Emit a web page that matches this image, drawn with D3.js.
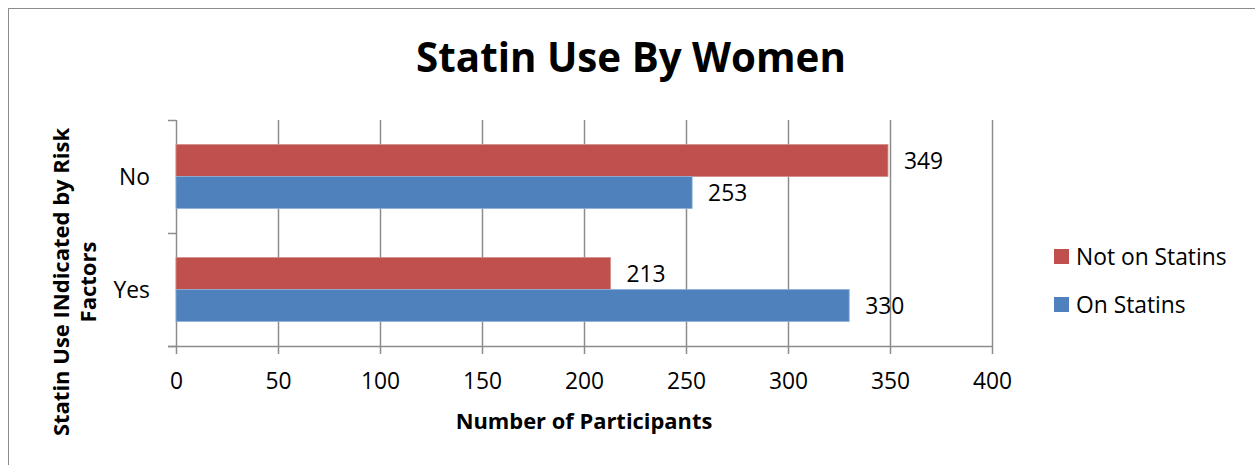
<!DOCTYPE html>
<html><head><meta charset="utf-8">
<script src="https://cdn.jsdelivr.net/npm/d3@7"></script>
<style>body{margin:0;background:#fff}svg{display:block}text{font-family:"Open Sans",Lato,sans-serif}</style>
</head><body><svg id="c" width="1255" height="465"></svg>
<script>
const categories = ["No", "Yes"];
const seriesNames = ["Not on Statins", "On Statins"];
const notOnStatins = [349, 213];
const onStatins = [253, 330];
const xTicks = [0, 50, 100, 150, 200, 250, 300, 350, 400];
const colors = ["#C0504D", "#4F81BD"];

const FS = 22.8;
const svg = d3.select("#c");
svg.append("rect").attr("x", 8.5).attr("y", 8.5).attr("width", 1260).attr("height", 470)
  .attr("fill", "#fff").attr("stroke", "#8c8c8c").attr("stroke-width", 1);

const L = 176, R = 992, T = 120, B = 346;
const x = d3.scaleLinear().domain([0, 400]).range([L, R]);
const y = d3.scaleBand().domain(categories).range([T, B]).paddingInner(0.434).paddingOuter(0.217);
const ys = d3.scaleBand().domain(seriesNames).range([0, y.bandwidth()]);

// gridlines
svg.append("g").selectAll("line").data(xTicks.slice(1)).join("line")
  .attr("x1", d => x(d) + 0.5).attr("x2", d => x(d) + 0.5).attr("y1", T).attr("y2", B)
  .attr("stroke", "#8c8c8c").attr("stroke-width", 1.5);

// x axis
const xa = svg.append("g").attr("transform", `translate(0,${B})`)
  .call(d3.axisBottom(x).tickValues(xTicks).tickSize(8).tickPadding(19).tickSizeOuter(0));
xa.select(".domain").attr("stroke", "#8c8c8c").attr("stroke-width", 1.5).attr("d", `M${L - 8},0.5H${R}`);
xa.selectAll(".tick line").attr("stroke", "#8c8c8c").attr("stroke-width", 1.5);
xa.selectAll(".tick text").attr("font-size", FS).attr("fill", "#000");

// y axis
const ya = svg.append("g").attr("transform", `translate(${L},0)`);
ya.append("line").attr("x1", 0.5).attr("x2", 0.5).attr("y1", T).attr("y2", B).attr("stroke", "#8c8c8c").attr("stroke-width", 1.5);
const yTickPos = [T, (T + B) / 2, B];
ya.selectAll("line.t").data(yTickPos).join("line").attr("class", "t")
  .attr("x1", -8).attr("x2", 0).attr("y1", d => d + 0.5).attr("y2", d => d + 0.5)
  .attr("stroke", "#8c8c8c").attr("stroke-width", 1.5);
ya.selectAll("text.c").data(categories).join("text").attr("class", "c")
  .attr("x", -26).attr("y", d => y(d) + y.bandwidth() / 2).attr("dy", "0.36em")
  .attr("text-anchor", "end").attr("font-size", FS).text(d => d);

// bars
const data = categories.map((c, i) => ({c, vals: [notOnStatins[i], onStatins[i]]}));
const g = svg.append("g");
data.forEach(d => {
  d.vals.forEach((v, j) => {
    const yy = y(d.c) + ys(seriesNames[j]);
    g.append("rect").attr("x", x(0)).attr("y", yy).attr("width", x(v) - x(0)).attr("height", ys.bandwidth())
      .attr("fill", colors[j]).attr("stroke", j === 0 ? "#d28d8b" : "#8fb0d8").attr("stroke-width", 0.8);
    g.append("text").attr("x", x(v) + 16).attr("y", yy + ys.bandwidth() / 2).attr("dy", "0.38em")
      .attr("font-size", FS).text(v);
  });
});

// title
svg.append("text").attr("x", 631).attr("y", 72).attr("text-anchor", "middle")
  .attr("font-size", 40.3).attr("font-weight", "bold").text("Statin Use By Women");

// x title
svg.append("text").attr("x", 584).attr("y", 429).attr("text-anchor", "middle")
  .attr("font-size", 21.9).attr("font-weight", "bold").text("Number of Participants");

// y title
const yt = svg.append("text").attr("transform", "translate(0,282) rotate(-90)")
  .attr("text-anchor", "middle").attr("font-size", 22).attr("font-weight", "bold");
yt.append("tspan").attr("x", 0).attr("y", 69).text("Statin Use INdicated by Risk");
yt.append("tspan").attr("x", 0).attr("y", 96).text("Factors");

// legend
const lg = svg.append("g");
seriesNames.forEach((s, i) => {
  const yy = 249 + i * 48;
  lg.append("rect").attr("x", 1054).attr("y", yy).attr("width", 15).attr("height", 15).attr("fill", colors[i]);
  lg.append("text").attr("x", 1076).attr("y", yy + 7.5).attr("dy", "0.36em").attr("font-size", FS).text(s);
});
</script></body></html>
